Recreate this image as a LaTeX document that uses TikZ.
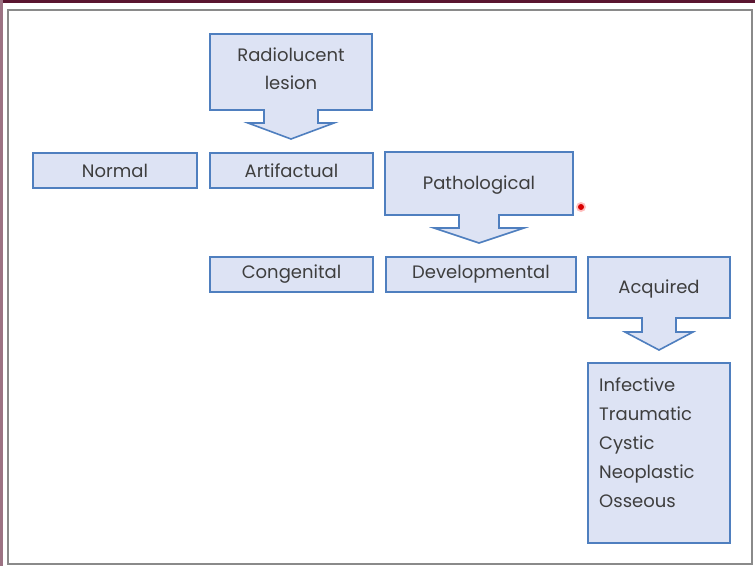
\documentclass[tikz,border=0pt]{standalone}
\usepackage{fontspec}
\setmainfont{Poppins}
\definecolor{boxfill}{HTML}{DDE3F4}
\definecolor{boxline}{HTML}{4F7FBF}
\definecolor{txt}{HTML}{3E3E3E}
\definecolor{frameline}{HTML}{8A8A8A}
\definecolor{topline}{HTML}{5A1530}
\begin{document}
\begin{tikzpicture}[x=1pt,y=-1pt,
  plainbox/.style={draw=boxline,fill=boxfill,line width=1.6pt,inner sep=0pt,
    font=\fontsize{18}{20}\selectfont,text=txt},
  callout/.style={draw=boxline,fill=boxfill,line width=1.6pt,line join=miter},
  calltext/.style={font=\fontsize{18}{28}\selectfont,text=txt,align=center,inner sep=0pt},
  listtext/.style={font=\fontsize{18}{29}\selectfont,text=txt,align=left,inner sep=0pt,anchor=west}
]
\useasboundingbox (0,0) rectangle (755,566);
\fill[white] (0,0) rectangle (755,566);
% frame
\fill[topline] (0,0) rectangle (755,3);
\fill[topline!60] (0,0) rectangle (3,566);
\draw[frameline,line width=2pt] (8,10) rectangle (752,564);

% callout: Radiolucent lesion
\draw[callout] (210,34) -- (372,34) -- (372,110) -- (318,110) -- (318,123) -- (334,123)
  -- (291,139) -- (248,123) -- (264,123) -- (264,110) -- (210,110) -- cycle;
\node[calltext] (rad) at (291,69) {Radiolucent\\lesion};

% callout: Pathological
\draw[callout] (385,152) -- (573,152) -- (573,215) -- (499,215) -- (499,228) -- (524,228)
  -- (479,243) -- (434,228) -- (459,228) -- (459,215) -- (385,215) -- cycle;
\node[calltext] (path) at (479,185) {Pathological};

% callout: Acquired
\draw[callout] (588,257) -- (730,257) -- (730,318) -- (676,318) -- (676,332) -- (693,332)
  -- (659,350) -- (625,332) -- (642,332) -- (642,318) -- (588,318) -- cycle;
\node[calltext] (acq) at (659,289) {Acquired};

% plain boxes
\node[plainbox,minimum width=164pt,minimum height=35pt] (normal) at (115,170.5) {Normal};
\node[plainbox,minimum width=163pt,minimum height=35pt] (artif) at (291.5,170.5) {Artifactual};
\node[plainbox,minimum width=163pt,minimum height=35pt] (cong) at (291.5,274.5) {Congenital};
\node[plainbox,minimum width=190pt,minimum height=35pt] (dev) at (481,274.5) {Developmental};

% list box
\node[plainbox,minimum width=142pt,minimum height=180pt] (list) at (659,453) {};
\node[listtext] (items) at (599,443) {Infective\\Traumatic\\Cystic\\Neoplastic\\Osseous};

% pointer dot
\fill[red!25] (581,207) circle (5);
\fill[red!85!black] (581,207) circle (3);
\end{tikzpicture}
\end{document}
